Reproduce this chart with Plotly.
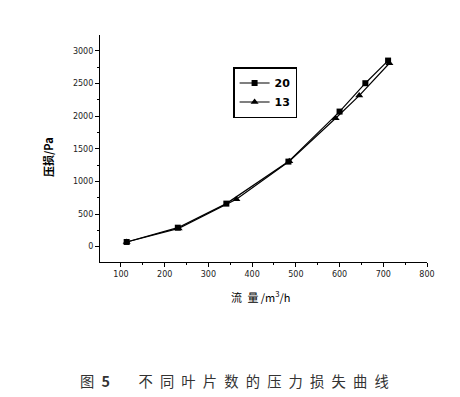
import plotly.graph_objects as go

x20 = [113, 230, 341, 483, 600, 659, 711]
y20 = [72, 291, 660, 1304, 2071, 2506, 2853]
x13 = [113, 232, 364, 485, 591, 645, 714]
y13 = [72, 280, 727, 1310, 1969, 2316, 2812]
series_names = ["20", "13"]
x_ticks = [100, 200, 300, 400, 500, 600, 700, 800]
y_ticks = [0, 500, 1000, 1500, 2000, 2500, 3000]
x_title = "流\u2002量\u2009/m<sup>3</sup>/h"
y_title = "<b>压损/Pa</b>"
caption_text = "不同叶片数的压力损失曲线"
caption = "图\u2002<b>5</b>\u2003\u2003" + "\u2002".join(caption_text)

fig = go.Figure()
fig.add_trace(go.Scatter(x=x20, y=y20, name=series_names[0], mode="lines+markers",
                         line=dict(color="black", width=1.2),
                         marker=dict(symbol="square", size=6, color="black")))
fig.add_trace(go.Scatter(x=x13, y=y13, name=series_names[1], mode="lines+markers",
                         line=dict(color="black", width=1.2),
                         marker=dict(symbol="triangle-up", size=7, color="black")))

axis_font = dict(family="DejaVu Sans", size=8, color="#222")
fig.update_layout(
    width=460, height=397,
    margin=dict(l=92, r=41, t=27, b=143),
    paper_bgcolor="white", plot_bgcolor="white",
    showlegend=True,
    legend=dict(x=0.407, y=0.859, xanchor="left", yanchor="top",
                bordercolor="black", borderwidth=1.5, bgcolor="white",
                font=dict(family="DejaVu Sans", size=11, color="black", weight="bold"),
                itemwidth=30, tracegroupgap=2),
    xaxis=dict(range=[52, 800], tickvals=x_ticks, showgrid=False, zeroline=False,
               showline=True, linecolor="black", linewidth=1.2,
               ticks="outside", ticklen=4, tickcolor="black", tickfont=axis_font,
               minor=dict(tickvals=[150, 250, 350, 450, 550, 650, 750], ticks="outside", ticklen=2, tickcolor="black")),
    yaxis=dict(range=[-235, 3245], tickvals=y_ticks, showgrid=False, zeroline=False,
               showline=True, linecolor="black", linewidth=1.2,
               ticks="outside", ticklen=4, tickcolor="black", tickfont=axis_font,
               minor=dict(tickvals=[250, 750, 1250, 1750, 2250, 2750], ticks="outside", ticklen=2, tickcolor="black")),
    annotations=[
        dict(text=x_title, xref="paper", yref="paper", x=0.49, y=-0.15, xanchor="center", yanchor="middle",
             showarrow=False, font=dict(family="Noto Sans CJK SC", size=11, color="black")),
        dict(text=y_title, xref="paper", yref="paper", x=-0.159, y=0.463, xanchor="center", yanchor="middle",
             textangle=-90, showarrow=False, font=dict(family="Noto Sans CJK SC", size=11, color="black")),
        dict(text=caption, xref="paper", yref="paper", x=0.41, y=-0.52, xanchor="center", yanchor="middle",
             showarrow=False, font=dict(family="Noto Sans CJK SC", size=14.3, color="#333")),
    ],
)
fig.write_html("out.html")
